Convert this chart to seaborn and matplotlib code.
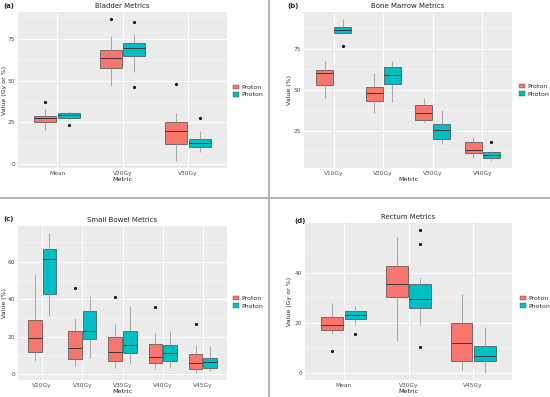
import numpy as np
import pandas as pd
import seaborn as sns
import matplotlib.pyplot as plt
from matplotlib.ticker import MultipleLocator
from matplotlib.patches import Patch
from matplotlib.lines import Line2D

# box summaries: [whisker low, q1, median, q3, whisker high]
bladder_metrics = ["Mean", "V20Gy", "V30Gy"]
bladder_proton = [[20.3, 25.2, 27.4, 28.6, 33.3], [46.6, 57.5, 63.5, 68.1, 77.0], [2.0, 12.1, 19.8, 25.4, 30.8]]
bladder_proton_out = [[37.3], [86.9], [48.0]]
bladder_photon = [[26.8, 27.8, 29.2, 30.4, 31.7], [55.2, 64.9, 69.8, 72.6, 78.0], [7.3, 10.5, 12.9, 15.3, 20.0]]
bladder_photon_out = [[23.2], [84.9, 46.0], [27.8]]

marrow_metrics = ["V10Gy", "V20Gy", "V30Gy", "V40Gy"]
marrow_proton = [[45.1, 53.1, 60.1, 62.0, 67.2], [36.0, 43.1, 47.9, 51.9, 59.9], [30.2, 31.4, 35.6, 40.9, 44.9], [8.5, 11.7, 13.6, 18.0, 21.4]]
marrow_proton_out = [[], [], [], []]
marrow_photon = [[84.0, 84.6, 86.4, 88.1, 92.9], [42.5, 53.5, 58.9, 64.0, 67.2], [17.0, 20.0, 25.2, 29.2, 37.4], [6.7, 8.7, 10.5, 12.1, 12.9]]
marrow_photon_out = [[76.6], [], [], [18.0]]

bowel_metrics = ["V20Gy", "V30Gy", "V35Gy", "V40Gy", "V45Gy"]
bowel_proton = [[7.0, 11.7, 19.4, 29.0, 53.4], [4.5, 8.2, 14.1, 23.0, 30.2], [3.5, 7.2, 11.9, 20.0, 26.7], [2.8, 5.8, 9.1, 16.4, 22.3], [0.7, 3.0, 6.1, 11.0, 15.7]]
bowel_proton_out = [[], [46.0], [41.3], [36.1], [26.7]]
bowel_photon = [[31.0, 42.9, 61.6, 66.8, 75.5], [8.7, 18.7, 23.2, 34.0, 42.0], [5.4, 11.5, 15.7, 23.0, 36.6], [3.3, 7.0, 11.3, 15.9, 23.0], [1.6, 3.5, 6.6, 8.7, 15.3]]
bowel_photon_out = [[], [], [], [], []]

rectum_metrics = ["Mean", "V30Gy", "V45Gy"]
rectum_proton = [[15.5, 17.1, 19.2, 22.4, 28.0], [12.7, 30.5, 35.5, 42.7, 54.5], [1.0, 4.6, 12.0, 20.0, 31.7]]
rectum_proton_out = [[8.9], [], []]
rectum_photon = [[19.2, 21.7, 23.3, 24.6, 26.9], [19.0, 26.1, 29.7, 35.4, 37.9], [0.0, 4.6, 6.9, 10.9, 18.2]]
rectum_photon_out = [[15.4], [57.1, 51.5, 10.5], []]

plans = ["Proton", "Photon"]
colors = ["#F8766D", "#00BFC4"]


def sample(stats, outs):
    # 13 points whose quartiles / whiskers / outliers match the summary
    lo, q1, med, q3, hi = stats
    low = sorted(o for o in outs if o < q1)
    high = sorted(o for o in outs if o > q3)
    low = low + [lo] * (3 - len(low))
    high = [hi] * (3 - len(high)) + high
    return low + [q1, q1, med, med, med, q3, q3] + high


def make_df(metrics, proton, proton_out, photon, photon_out):
    rows = []
    for plan, boxes, outs in [("Proton", proton, proton_out), ("Photon", photon, photon_out)]:
        for m, st, o in zip(metrics, boxes, outs):
            for v in sample(st, o):
                rows.append({"Metric": m, "Plan": plan, "Value": v})
    return pd.DataFrame(rows)


sns.set_theme(style="darkgrid", rc={
    "axes.facecolor": "#EBEBEB",
    "grid.color": "white",
    "axes.edgecolor": "#EBEBEB",
    "xtick.color": "#4D4D4D",
    "ytick.color": "#4D4D4D",
})
plt.rcParams["font.family"] = ["DejaVu Sans"]

W, H = 550, 397
fig = plt.figure(figsize=(5.5, 3.97), dpi=100)


def box_axes(l, t, r, b):
    return fig.add_axes([l / W, 1 - b / H, (r - l) / W, (b - t) / H])


panels = [
    ("Bladder Metrics", "(a)", "Value (Gy or %)", (18, 12, 227, 168), 25, 12.5,
     make_df(bladder_metrics, bladder_proton, bladder_proton_out, bladder_photon, bladder_photon_out),
     bladder_metrics, (3, 6), (233, 91), 7.5),
    ("Bone Marrow Metrics", "(b)", "Value (%)", (304, 12, 512, 168), 25, 12.5,
     make_df(marrow_metrics, marrow_proton, marrow_proton_out, marrow_photon, marrow_photon_out),
     marrow_metrics, (287, 6), (519, 90), 292),
    ("Small Bowel Metrics", "(c)", "Value (%)", (18, 226, 227, 380), 20, 10,
     make_df(bowel_metrics, bowel_proton, bowel_proton_out, bowel_photon, bowel_photon_out),
     bowel_metrics, (3, 219), (233, 302), 7.5),
    ("Rectum Metrics", "(d)", "Value (Gy or %)", (305, 223, 512, 380), 20, 10,
     make_df(rectum_metrics, rectum_proton, rectum_proton_out, rectum_photon, rectum_photon_out),
     rectum_metrics, (294, 221), (520, 302), 292),
]

for title, tag, ylab, pos, major, minor, df, metrics, tagpos, legpos, ylx in panels:
    ax = box_axes(*pos)
    sns.boxplot(data=df, x="Metric", y="Value", hue="Plan", order=metrics,
                hue_order=plans, palette=colors, width=0.72, gap=0.06,
                linecolor="#4a4a4a", linewidth=0.5, fliersize=1.2,
                showcaps=False, legend=False, saturation=1, ax=ax,
                whiskerprops=dict(color="#9a9a9a", linewidth=0.6),
                medianprops=dict(color="#3a3a3a", linewidth=0.7),
                flierprops=dict(marker="o", markerfacecolor="black",
                                markeredgecolor="black"))
    ax.set_xlim(-0.6, len(metrics) - 0.4)
    ax.yaxis.set_major_locator(MultipleLocator(major))
    ax.yaxis.set_minor_locator(MultipleLocator(minor))
    ax.grid(which="major", color="white", linewidth=0.7)
    ax.grid(which="minor", axis="y", color="white", linewidth=0.35)
    for s in ax.spines.values():
        s.set_visible(False)
    ax.tick_params(axis="both", which="major", labelsize=4.2, length=1.2,
                   width=0.5, color="#4D4D4D", pad=0.8)
    ax.tick_params(axis="y", which="minor", length=0)
    ax.set_title(title, fontsize=5, color="#222222", pad=3)
    ax.set_xlabel("Metric", fontsize=4.6, color="#222222", labelpad=1)
    ax.set_ylabel(ylab, fontsize=4.5, color="#222222")
    ax.yaxis.set_label_coords((ylx - pos[0]) / (pos[2] - pos[0]), 0.5)
    fig.text(tagpos[0] / W, 1 - tagpos[1] / H, tag, fontsize=5, fontweight="bold",
             ha="left", va="center", color="#222222")
    handles = [Patch(facecolor=c, edgecolor="#4a4a4a", linewidth=0.3) for c in colors]
    fig.legend(handles, plans, loc="center left",
               bbox_to_anchor=(legpos[0] / W, 1 - legpos[1] / H),
               frameon=False, fontsize=4.5, handlelength=1.0, handleheight=0.8,
               handletextpad=0.4, labelspacing=0.3, borderpad=0, borderaxespad=0)

# separators between the four panels
fig.add_artist(Line2D([269 / W, 269 / W], [0, 1], color="#a8a8a8", linewidth=1.2))
fig.add_artist(Line2D([0, 1], [1 - 198 / H, 1 - 198 / H], color="#a8a8a8", linewidth=1.2))

fig.savefig("out.png", dpi=100)
